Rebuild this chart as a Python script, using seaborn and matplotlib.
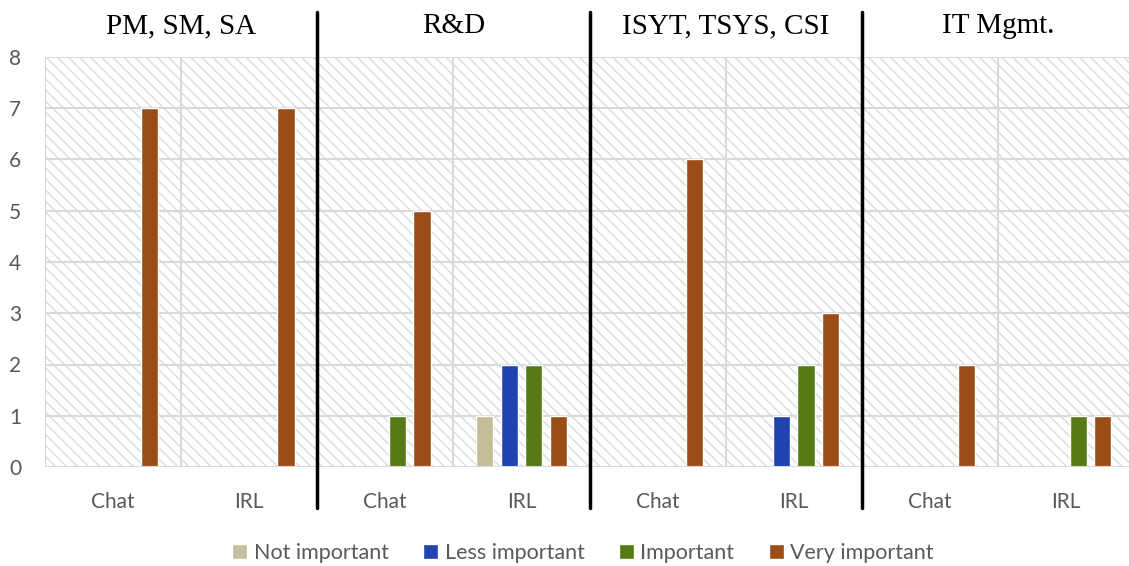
import numpy as np
import pandas as pd
import matplotlib
matplotlib.use("Agg")
import matplotlib.pyplot as plt
import seaborn as sns
from matplotlib.patches import Rectangle

# data
departments = ["PM, SM, SA", "R&D", "ISYT, TSYS, CSI", "IT Mgmt."]
modes = ["Chat", "IRL"]
levels = ["Not important", "Less important", "Important", "Very important"]
colors = ["#C4BD97", "#1F44B0", "#557A16", "#9A4D17"]

# rows = department x mode, columns = levels
not_important  = [0, 0, 0, 1, 0, 0, 0, 0]
less_important = [0, 0, 0, 2, 0, 1, 0, 0]
important      = [0, 0, 1, 2, 0, 2, 0, 1]
very_important = [7, 7, 5, 1, 6, 3, 2, 1]

cats = [f"{d}|{m}" for d in departments for m in modes]
df = pd.DataFrame({"cat": cats,
                   "Not important": not_important,
                   "Less important": less_important,
                   "Important": important,
                   "Very important": very_important})
long = df.melt(id_vars="cat", var_name="level", value_name="count")

sns.set_style("white")
plt.rcParams["font.family"] = ["Lato", "DejaVu Sans"]
plt.rcParams["hatch.color"] = "#DADADA"
plt.rcParams["hatch.linewidth"] = 1.0

fig = plt.figure(figsize=(11.29, 5.66), dpi=100)
W, H = 1129, 566
ax = fig.add_axes([45 / W, 1 - 467 / H, (1134 - 45) / W, (467 - 57) / H])

# hatched background
ax.add_patch(Rectangle((-0.5, 0), 8, 8, facecolor="white", edgecolor="#DADADA",
                       hatch="\\\\\\", linewidth=0, zorder=0))

sns.barplot(data=long, x="cat", y="count", hue="level", hue_order=levels,
            order=cats, palette=colors, saturation=1, width=0.72, gap=0.3,
            ax=ax, zorder=3, legend=True)

ax.set_xlim(-0.5, 7.5)
ax.set_ylim(0, 8)
ax.set_yticks(range(9))
for y in range(1, 9):
    ax.axhline(y, color="#D9D9D9", lw=1.5, zorder=1)
for x in np.arange(-0.5, 8, 1):
    ax.axvline(x, color="#D9D9D9", lw=1.5, zorder=1)
ax.axhline(0, color="#D9D9D9", lw=1.5, zorder=4)

for sp in ax.spines.values():
    sp.set_visible(False)

ax.set_xticks(range(8))
ax.set_xticklabels(modes * 4)
ax.tick_params(axis="both", length=0, labelsize=15, labelcolor="#595959")
ax.tick_params(axis="x", pad=18)
ax.tick_params(axis="y", pad=17)
ax.set_xlabel("")
ax.set_ylabel("")

# separators between departments
for x in [1.5, 3.5, 5.5]:
    ax.axvline(x, ymin=(467 - 508) / 410, ymax=(467 - 12) / 410,
               color="black", lw=2.5, clip_on=False, zorder=5)

# department titles
for i, d in enumerate(departments):
    ax.text(2 * i + 0.5, 8.6, d, ha="center", va="center", fontsize=21,
            family=["Liberation Serif", "DejaVu Serif"], color="black")

ax.legend(loc="center", bbox_to_anchor=(0.494, -0.21), ncol=4, frameon=False,
          fontsize=15.5, labelcolor="#595959", handlelength=0.7, handleheight=0.7,
          handletextpad=0.3, columnspacing=1.6)

fig.savefig("out.png", dpi=100)
